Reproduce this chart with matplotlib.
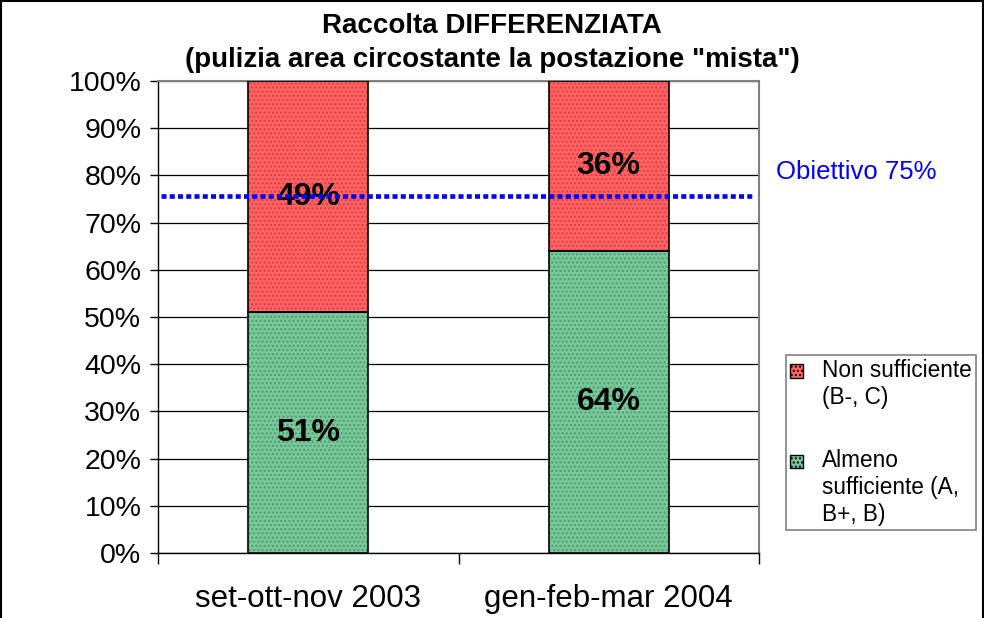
import matplotlib
matplotlib.use("Agg")
import matplotlib.pyplot as plt
from matplotlib.lines import Line2D
from matplotlib.patches import Rectangle
from matplotlib.legend_handler import HandlerPatch

plt.rcParams['font.family'] = ['Liberation Sans', 'DejaVu Sans']
plt.rcParams['hatch.linewidth'] = 1.0

periods = ["set-ott-nov 2003", "gen-feb-mar 2004"]
almeno = [51, 64]
non_suff = [49, 36]
target = 75
yticks = list(range(0, 101, 10))
labels = ["Almeno\nsufficiente (A,\nB+, B)", "Non sufficiente\n(B-, C)"]

green = "#78c89a"
red = "#ff6262"

fig = plt.figure(figsize=(9.84, 6.18), dpi=100)
ax = fig.add_axes([158 / 984, 1 - 553 / 618, 601 / 984, 472 / 618])

x = list(range(len(periods)))
b1 = ax.bar(x, almeno, width=0.4, color=green, hatch="....",
            edgecolor="#4e9c72", linewidth=0, zorder=3)
b2 = ax.bar(x, non_suff, bottom=almeno, width=0.4, color=red, hatch="....",
            edgecolor="#d84040", linewidth=0, zorder=3)
# black outlines
ax.bar(x, almeno, width=0.4, fill=False, edgecolor="black", linewidth=1.2, zorder=4)
ax.bar(x, non_suff, bottom=almeno, width=0.4, fill=False, edgecolor="black",
       linewidth=1.2, zorder=4)

for i in x:
    ax.text(i, almeno[i] / 2, f"{almeno[i]}%", ha="center", va="center",
            fontsize=23, fontweight="bold", zorder=5)
    ax.text(i, almeno[i] + non_suff[i] / 2, f"{non_suff[i]}%", ha="center",
            va="center", fontsize=23, fontweight="bold", zorder=5)

# target line drawn a touch above 75 like the hand-placed line in the original
ax.axhline(target + 0.6, xmin=0.005, xmax=0.993, color="#0000ff", linewidth=3.3,
           linestyle=(0, (1.1, 0.7)), zorder=6)

ax.set_xlim(-0.5, 1.5)
ax.set_ylim(0, 100)
ax.set_yticks(yticks)
ax.set_yticklabels([f"{t}%" for t in yticks], fontsize=20.5)
ax.set_xticks(x)
ax.set_xticklabels(periods, fontsize=22.5)
ax.tick_params(axis="x", length=0, pad=22)
ax.tick_params(axis="y", length=6, width=1, direction="out", pad=6)
ax.set_xticks([-0.5, 0.5, 1.5], minor=True)
ax.tick_params(axis="x", which="minor", length=8, width=1, direction="out")

ax.yaxis.grid(True, color="black", linewidth=0.9, zorder=0)
ax.set_axisbelow(True)
for s in ["top", "right"]:
    ax.spines[s].set_color("#808080")
    ax.spines[s].set_linewidth(1.5)
for s in ["left", "bottom"]:
    ax.spines[s].set_color("black")
    ax.spines[s].set_linewidth(1.0)

fig.text(0.5, 1 - 26 / 618, "Raccolta DIFFERENZIATA", ha="center", va="center",
         fontsize=20, fontweight="bold")
fig.text(0.5, 1 - 60 / 618, '(pulizia area circostante la postazione "mista")',
         ha="center", va="center", fontsize=20, fontweight="bold")

fig.text(776 / 984, 1 - 172 / 618, f"Obiettivo {target}%", color="#0000ff",
         ha="left", va="center", fontsize=18.5)

# legend swatches sit next to the first text line, as in Excel
h_red, h_green = b2.patches[0], b1.patches[0]
n_lines = {h_red: labels[1].count("\n") + 1, h_green: labels[0].count("\n") + 1}


def top_swatch(legend, orig_handle, xdescent, ydescent, width, height, fontsize):
    shift = (n_lines[orig_handle] - 1) / 2 * 1.2 * fontsize
    return Rectangle((-xdescent, -ydescent + shift), width, height)


hp = HandlerPatch(patch_func=top_swatch)
leg = fig.legend([h_red, h_green], [labels[1], labels[0]], loc="upper left",
                 bbox_to_anchor=(786 / 984, 1 - 355 / 618), fontsize=16.3,
                 frameon=True, fancybox=False, edgecolor="#606060",
                 handlelength=0.55, handleheight=0.55, handletextpad=0.85,
                 labelspacing=1.8, borderpad=0.18, borderaxespad=0,
                 handler_map={h_red: hp, h_green: hp})
leg.get_frame().set_linewidth(1.2)
for h in leg.legend_handles:
    h.set_edgecolor("black")
    h.set_linewidth(1)

# figure border
fig.add_artist(Line2D([0.001, 0.001], [0, 0.999], color="black", linewidth=1.5,
                      transform=fig.transFigure))
fig.add_artist(Line2D([0.001, 0.999], [0.998, 0.998], color="black", linewidth=1.5,
                      transform=fig.transFigure))
fig.add_artist(Line2D([0.999, 0.999], [0, 0.998], color="black", linewidth=1.5,
                      transform=fig.transFigure))

fig.savefig("out.png", dpi=100)
